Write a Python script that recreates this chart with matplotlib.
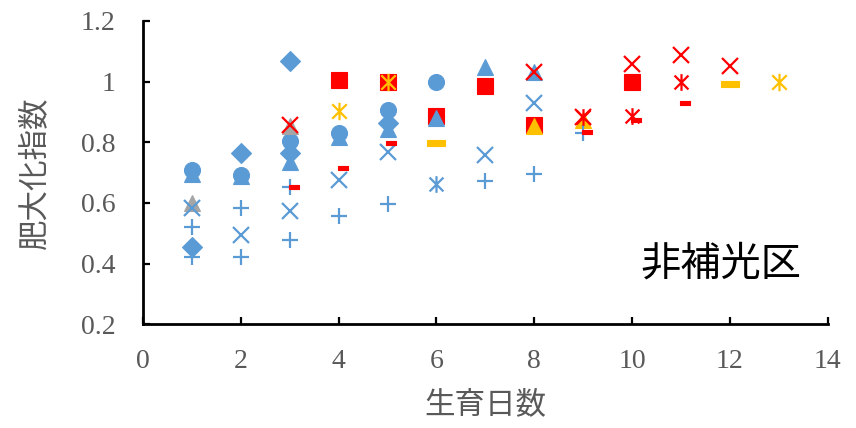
import matplotlib
matplotlib.use("Agg")
import matplotlib.pyplot as plt
from matplotlib.path import Path

# ---- data -------------------------------------------------------------
blue_diamond_a_x = [1, 2, 3]
blue_diamond_a_y = [0.456, 0.765, 1.069]
blue_diamond_b_x = [3, 5]
blue_diamond_b_y = [0.764, 0.863]

blue_circle_x = [1, 2, 3, 4, 5, 6]
blue_circle_y = [0.710, 0.692, 0.805, 0.830, 0.907, 0.998]

blue_triangle_x = [1, 2, 3, 4, 5, 6, 7, 8]
blue_triangle_y = [0.697, 0.688, 0.735, 0.818, 0.845, 0.880, 1.049, 1.031]

blue_x_x = [1, 2, 3, 4, 5, 7, 8]
blue_x_y = [0.583, 0.494, 0.575, 0.676, 0.769, 0.758, 0.931]

blue_plus_a_x = [1, 2, 3, 9]
blue_plus_a_y = [0.522, 0.582, 0.654, 0.830]
blue_plus_b_x = [1, 2, 3, 4, 5, 7, 8]
blue_plus_b_y = [0.423, 0.423, 0.478, 0.557, 0.597, 0.672, 0.695]

blue_star_x = [6]
blue_star_y = [0.663]

gray_triangle_x = [1, 3]
gray_triangle_y = [0.600, 0.855]

red_square_x = [4, 5, 6, 7, 8, 10]
red_square_y = [1.005, 0.998, 0.887, 0.987, 0.857, 0.998]

yellow_triangle_x = [8, 9]
yellow_triangle_y = [0.855, 0.875]

yellow_star_x = [4, 5, 13]
yellow_star_y = [0.903, 0.998, 0.998]

red_dash_x = [3.08, 4.08, 5.08, 9.08, 10.08, 11.08]
red_dash_y = [0.653, 0.716, 0.799, 0.833, 0.874, 0.929]

yellow_dash_x = [6, 12]
yellow_dash_y = [0.799, 0.991]

red_x_x = [3, 8, 9, 10, 11, 12]
red_x_y = [0.857, 1.031, 0.882, 1.057, 1.088, 1.052]

red_star_x = [9, 10, 11]
red_star_y = [0.885, 0.887, 0.998]

x_ticks = [0, 2, 4, 6, 8, 10, 12, 14]
y_ticks = [0.2, 0.4, 0.6, 0.8, 1.0, 1.2]
y_tick_labels = ["0.2", "0.4", "0.6", "0.8", "1", "1.2"]

x_label = "生育日数"
y_label = "肥大化指数"
panel_note = "非補光区"

# ---- styling ----------------------------------------------------------
BLUE = "#5B9BD5"
GRAY = "#A5A5A5"
RED = "#FF0000"
YELLOW = "#FFC000"
TEXT_GRAY = "#595959"
CJK = ["Noto Sans CJK JP", "DejaVu Sans"]
SERIF = ["Liberation Serif", "DejaVu Serif"]

# asterisk: an x with a vertical stroke
star_path = Path(
    [(-0.5, -0.5), (0.5, 0.5), (-0.5, 0.5), (0.5, -0.5), (0, -0.6), (0, 0.6)],
    [Path.MOVETO, Path.LINETO, Path.MOVETO, Path.LINETO, Path.MOVETO, Path.LINETO],
)
# short horizontal bar
dash_path = Path(
    [(-0.5, -0.15), (0.5, -0.15), (0.5, 0.15), (-0.5, 0.15), (-0.5, -0.15)],
    [Path.MOVETO, Path.LINETO, Path.LINETO, Path.LINETO, Path.CLOSEPOLY],
)

fig = plt.figure(figsize=(8.56, 4.28), dpi=100)
ax = fig.add_axes([0.167, 0.2423, 0.800, 0.7087])


def filled(x, y, marker, color, ms):
    ax.plot(x, y, linestyle="none", marker=marker, ms=ms,
            mfc=color, mec=color, mew=0.8)


def stroked(x, y, marker, color, ms, mew=1.6):
    ax.plot(x, y, linestyle="none", marker=marker, ms=ms,
            mfc="none", mec=color, mew=mew)


filled(blue_circle_x, blue_circle_y, "o", BLUE, 11.5)
filled(blue_diamond_a_x, blue_diamond_a_y, "D", BLUE, 10.5)
filled(blue_diamond_b_x, blue_diamond_b_y, "D", BLUE, 10.5)
filled(red_square_x, red_square_y, "s", RED, 12.0)
filled(blue_triangle_x, blue_triangle_y, "^", BLUE, 11.5)
filled(gray_triangle_x, gray_triangle_y, "^", GRAY, 11.5)
filled(yellow_triangle_x, yellow_triangle_y, "^", YELLOW, 11.5)
stroked(blue_x_x, blue_x_y, "x", BLUE, 11.0)
stroked(blue_plus_a_x, blue_plus_a_y, "+", BLUE, 12.0)
stroked(blue_plus_b_x, blue_plus_b_y, "+", BLUE, 12.0)
stroked(blue_star_x, blue_star_y, star_path, BLUE, 12.0)
stroked(yellow_star_x, yellow_star_y, star_path, YELLOW, 12.5)
filled(red_dash_x, red_dash_y, dash_path, RED, 7.5)
filled(yellow_dash_x, yellow_dash_y, dash_path, YELLOW, 12.5)
stroked(red_x_x, red_x_y, "x", RED, 11.0)
stroked(red_star_x, red_star_y, star_path, RED, 12.0)

# ---- axes -------------------------------------------------------------
ax.set_xlim(0, 14)
ax.set_ylim(0.2, 1.2)
ax.set_xticks(x_ticks)
ax.set_yticks(y_ticks)
ax.set_yticklabels(y_tick_labels)
for side in ("top", "right"):
    ax.spines[side].set_visible(False)
for side in ("left", "bottom"):
    ax.spines[side].set_linewidth(2.0)
    ax.spines[side].set_color("black")
ax.tick_params(axis="both", direction="in", length=5, width=1.6,
               colors="black", labelcolor=TEXT_GRAY, labelsize=20)
ax.tick_params(axis="y", pad=20)
ax.tick_params(axis="x", pad=18)
for lab in ax.get_xticklabels() + ax.get_yticklabels():
    lab.set_fontfamily(SERIF)

ax.set_xlabel(x_label, family=CJK, fontsize=22, color=TEXT_GRAY, labelpad=11)
ax.set_ylabel(y_label, family=CJK, fontsize=22, color=TEXT_GRAY, labelpad=22)

ax.text(0.727, 0.20, panel_note, transform=ax.transAxes, family=CJK,
        fontsize=29, color="black", ha="left", va="center")

fig.savefig("out.png", dpi=100)
